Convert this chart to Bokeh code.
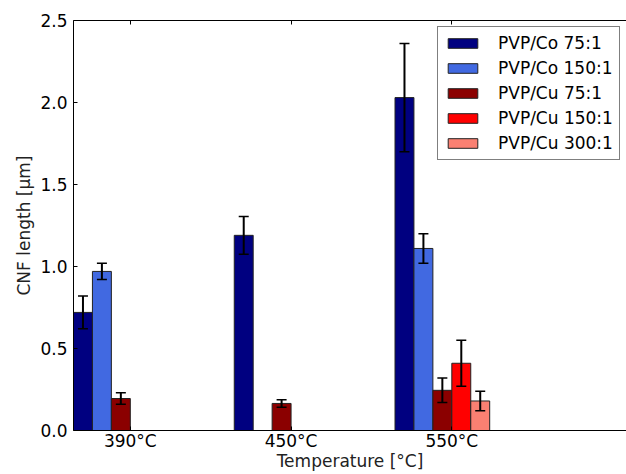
import math
from bokeh.plotting import figure
from bokeh.models import (ColumnDataSource, FixedTicker, LinearAxis, Whisker, TeeHead,
                          Legend, LegendItem, Range1d)
from bokeh.embed import file_html
from bokeh.resources import INLINE

nan = float("nan")

temps = ["390°C", "450°C", "550°C"]
series = ["PVP/Co 75:1", "PVP/Co 150:1", "PVP/Cu 75:1", "PVP/Cu 150:1", "PVP/Cu 300:1"]
colors = ["#000080", "#4169E1", "#8B0000", "#FF0000", "#FA8072"]

co75 = [0.72, 1.19, 2.03]
co75_err = [0.10, 0.115, 0.33]
co150 = [0.97, nan, 1.11]
co150_err = [0.05, nan, 0.09]
cu75 = [0.195, 0.165, 0.245]
cu75_err = [0.035, 0.023, 0.075]
cu150 = [nan, nan, 0.41]
cu150_err = [nan, nan, 0.14]
cu300 = [nan, nan, 0.18]
cu300_err = [nan, nan, 0.06]

values = [co75, co150, cu75, cu150, cu300]
errors = [co75_err, co150_err, cu75_err, cu150_err, cu300_err]

y_ticks = [0.0, 0.5, 1.0, 1.5, 2.0, 2.5]
x_label = "Temperature [°C]"
y_label = "CNF length [μm]"

W = 0.1178  # bar width in data units
FONT = "DejaVu Sans"
FS = "17px"

p = figure(width=626, height=474, x_range=Range1d(0, 3.44), y_range=Range1d(0, 2.5),
           output_backend="svg", toolbar_location=None, tools="",
           min_border_left=73, min_border_top=20, min_border_right=0, min_border_bottom=44,
           x_axis_label=x_label, y_axis_label=y_label)
p.outline_line_color = None
p.xgrid.visible = False
p.ygrid.visible = False
p.background_fill_color = "white"
p.border_fill_color = "white"

xtick_pos = [g + 3 * W for g in range(len(temps))]

legend_items = []
for k, (name, col, vals, errs) in enumerate(zip(series, colors, values, errors)):
    xs, tops, lo, hi = [], [], [], []
    for g, (v, e) in enumerate(zip(vals, errs)):
        if math.isnan(v):
            continue
        xs.append(g + (k + 0.5) * W)
        tops.append(v)
        lo.append(v - e)
        hi.append(v + e)
    src = ColumnDataSource(dict(x=xs, top=tops, lower=lo, upper=hi))
    r = p.vbar(x="x", top="top", bottom=0, width=W, source=src,
               fill_color=col, line_color="#222222", line_width=1)
    legend_items.append(LegendItem(label=name, renderers=[r]))
    wh = Whisker(base="x", upper="upper", lower="lower", source=src, level="overlay",
                 line_color="black", line_width=2,
                 upper_head=TeeHead(size=10, line_color="black", line_width=1.5),
                 lower_head=TeeHead(size=10, line_color="black", line_width=1.5))
    p.add_layout(wh)

# bottom axis
xa = p.xaxis[0]
xa.ticker = FixedTicker(ticks=xtick_pos)
xa.major_label_overrides = {xtick_pos[i]: temps[i] for i in range(len(temps))}
xa.minor_tick_line_color = None
xa.major_tick_in = 4
xa.major_tick_out = 0
xa.major_label_standoff = 0
xa.axis_label_standoff = -3
xa.axis_line_color = "black"
xa.major_tick_line_color = "black"
xa.major_label_text_font = FONT
xa.major_label_text_font_size = FS
xa.major_label_text_color = "black"
xa.axis_label_text_font = FONT
xa.axis_label_text_font_size = FS
xa.axis_label_text_font_style = "normal"
xa.axis_label_text_color = "#222222"

# left axis
ya = p.yaxis[0]
ya.ticker = FixedTicker(ticks=y_ticks)
ya.major_label_overrides = {t: f"{t:.1f}" for t in y_ticks}
ya.minor_tick_line_color = None
ya.major_tick_in = 4
ya.major_tick_out = 0
ya.major_label_standoff = 6
ya.axis_label_standoff = 3
ya.axis_line_color = "black"
ya.major_tick_line_color = "black"
ya.major_label_text_font = FONT
ya.major_label_text_font_size = FS
ya.major_label_text_color = "black"
ya.axis_label_text_font = FONT
ya.axis_label_text_font_size = FS
ya.axis_label_text_font_style = "normal"
ya.axis_label_text_color = "#222222"

# top spine with inward ticks
top_ax = LinearAxis(ticker=FixedTicker(ticks=xtick_pos),
                    major_label_text_font_size="1px", major_label_text_alpha=0.0,
                    major_label_standoff=0,
                    major_tick_in=4, major_tick_out=0, minor_tick_line_color=None,
                    axis_line_color="black", major_tick_line_color="black")
p.add_layout(top_ax, "above")

legend = Legend(items=legend_items, location=(364, 270),
                label_text_font=FONT, label_text_font_size=FS, label_text_color="black",
                glyph_width=37, glyph_height=12, label_height=18, spacing=5,
                label_standoff=17, padding=6, margin=0,
                border_line_color="black", border_line_width=1,
                background_fill_color="white", background_fill_alpha=1.0)
p.add_layout(legend, "center")

open("out.html", "w").write(file_html(p, INLINE))
